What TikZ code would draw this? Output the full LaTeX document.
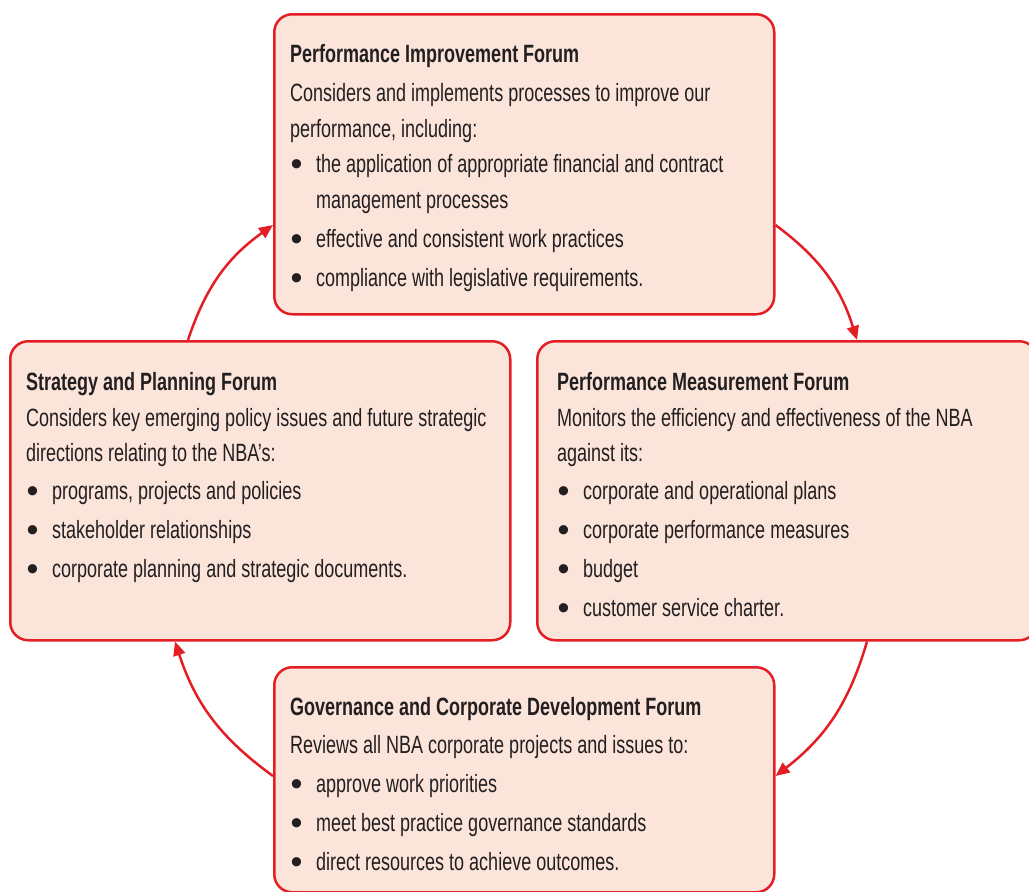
\documentclass[tikz,border=0pt]{standalone}
\usepackage{fontspec}
\setmainfont[FakeStretch=0.72]{Liberation Sans}
\newfontfamily\bulfont{Liberation Sans}
\usetikzlibrary{arrows.meta}
\definecolor{boxred}{HTML}{E31E24}
\definecolor{boxfill}{HTML}{FBE4DA}
\definecolor{txt}{HTML}{231F20}
\newcommand\bul{\makebox[26pt][l]{\hspace*{0.5pt}\raisebox{-3pt}{\bulfont\fontsize{34}{34}\selectfont\textbullet}}}
\newcommand\ind{\hspace*{26pt}}
\begin{document}
\begin{tikzpicture}[x=1pt,y=-1pt,
  forum/.style={draw=boxred, fill=boxfill, line width=2.5pt, rounded corners=18pt,
    anchor=north west, inner sep=0pt},
  body/.style={anchor=north west, align=left, inner sep=0pt,
    font=\fontsize{25}{35.5}\selectfont, text=txt},
  flow/.style={draw=boxred, line width=2.5pt, -{Triangle[length=14pt,width=12pt]}}]
\useasboundingbox (0,0) rectangle (1029,892);

\node[forum, minimum width=500pt, minimum height=300pt] (pif) at (273,13) {};
\node[forum, minimum width=500pt, minimum height=299pt] (spf) at (9,340) {};
\node[forum, minimum width=500pt, minimum height=299pt] (pmf) at (536,340) {};
\node[forum, minimum width=500pt, minimum height=225pt] (gcf) at (273,666) {};

\node[body] (piftext) at (290,43.8) {\textbf{Performance Improvement Forum}\\[4pt]
Considers and implements processes to improve our\\
performance, including:\\
\bul the application of appropriate financial and contract\\
\ind management processes\\[3.5pt]
\bul effective and consistent work practices\\[3.5pt]
\bul compliance with legislative requirements.};

\node[body] (spftext) at (26,371.8) {\textbf{Strategy and Planning Forum}\\[0.5pt]
Considers key emerging policy issues and future strategic\\
directions relating to the NBA’s:\\[2.5pt]
\bul programs, projects and policies\\[3.5pt]
\bul stakeholder relationships\\[3.5pt]
\bul corporate planning and strategic documents.};

\node[body] (pmftext) at (557,371.8) {\textbf{Performance Measurement Forum}\\[0.5pt]
Monitors the efficiency and effectiveness of the NBA\\
against its:\\[2.5pt]
\bul corporate and operational plans\\[3.5pt]
\bul corporate performance measures\\[3.5pt]
\bul budget\\[3pt]
\bul customer service charter.};

\node[body] (gcftext) at (290,696.8) {\textbf{Governance and Corporate Development Forum}\\[2.5pt]
Reviews all NBA corporate projects and issues to:\\[3.5pt]
\bul approve work priorities\\[3.5pt]
\bul meet best practice governance standards\\[3.5pt]
\bul direct resources to achieve outcomes.};

\draw[flow] ([xshift=179pt]spf.north west) to[bend left=18] ([yshift=-212pt]pif.north west);
\draw[flow] ([yshift=-212pt]pif.north east) to[bend left=18] ([xshift=321pt]pmf.north west);
\draw[flow] ([xshift=331pt]pmf.south west) to[bend left=18] ([yshift=-110pt]gcf.north east);
\draw[flow] ([yshift=-110pt]gcf.north west) to[bend left=18] ([xshift=166pt]spf.south west);
\end{tikzpicture}
\end{document}
